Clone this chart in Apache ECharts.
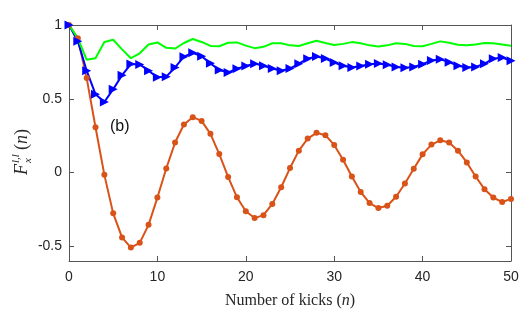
<!DOCTYPE html>
<html>
<head>
<meta charset="utf-8">
<script src="https://cdn.jsdelivr.net/npm/echarts@6/dist/echarts.min.js"></script>
<style>
  html, body { margin: 0; padding: 0; background: #fff; }
  #chart { width: 529px; height: 324px; }
</style>
</head>
<body>
<div id="chart"></div>
<script>
// number of kicks
var kicks = [0, 1, 2, 3, 4, 5, 6, 7, 8, 9, 10, 11, 12, 13, 14, 15, 16, 17, 18, 19, 20,
  21, 22, 23, 24, 25, 26, 27, 28, 29, 30, 31, 32, 33, 34, 35, 36, 37, 38, 39, 40,
  41, 42, 43, 44, 45, 46, 47, 48, 49, 50];

// orange curve with dots
var orangeVals = [1, 0.91, 0.64, 0.307, -0.016, -0.277, -0.44, -0.509, -0.477, -0.355, -0.17,
  0.027, 0.203, 0.325, 0.375, 0.35, 0.262, 0.125, -0.03, -0.168, -0.263,
  -0.309, -0.289, -0.213, -0.1, 0.03, 0.148, 0.23, 0.269, 0.253, 0.187,
  0.087, -0.027, -0.132, -0.207, -0.241, -0.225, -0.164, -0.075, 0.025, 0.123,
  0.189, 0.218, 0.203, 0.148, 0.068, -0.027, -0.113, -0.17, -0.2, -0.179];

// blue curve with triangles
var blueVals = [1, 0.89, 0.69, 0.53, 0.478, 0.565, 0.66, 0.735, 0.733, 0.69, 0.645,
  0.65, 0.712, 0.785, 0.812, 0.788, 0.74, 0.695, 0.678, 0.703, 0.722,
  0.738, 0.724, 0.705, 0.69, 0.705, 0.738, 0.772, 0.787, 0.773, 0.746,
  0.723, 0.712, 0.722, 0.734, 0.739, 0.73, 0.716, 0.71, 0.716, 0.734,
  0.76, 0.767, 0.748, 0.724, 0.712, 0.716, 0.738, 0.772, 0.78, 0.757];

// green curve, no markers
var greenVals = [1, 0.91, 0.765, 0.775, 0.885, 0.9, 0.835, 0.775, 0.808, 0.868, 0.882,
  0.845, 0.84, 0.878, 0.905, 0.885, 0.858, 0.856, 0.88, 0.882, 0.86,
  0.843, 0.852, 0.876, 0.876, 0.862, 0.858, 0.876, 0.893, 0.878, 0.864,
  0.872, 0.884, 0.876, 0.862, 0.854, 0.862, 0.876, 0.872, 0.858, 0.856,
  0.872, 0.889, 0.88, 0.866, 0.862, 0.868, 0.878, 0.876, 0.868, 0.86];

var yTicks = [-0.5, 0, 0.5, 1];

function pairs(vals) {
  return kicks.map(function (k, i) { return [k, vals[i]]; });
}

var chart = echarts.init(document.getElementById('chart'));
var axisCol = '#555';
var labelFont = { fontFamily: 'Liberation Sans, Arial, sans-serif', fontSize: 14, color: '#262626' };

var option = {
  animation: false,
  backgroundColor: '#fff',
  grid: { left: 69, right: 18, top: 25, bottom: 63 },
  xAxis: [
    {
      type: 'value', min: 0, max: 50, interval: 10,
      axisLine: { show: true, onZero: false, lineStyle: { color: axisCol, width: 1 } },
      axisTick: { show: true, inside: true, length: 5, lineStyle: { color: axisCol } },
      axisLabel: Object.assign({ margin: 9 }, labelFont),
      splitLine: { show: false },
      name: '{a|Number of kicks (}{i|n}{a|)}',
      nameLocation: 'middle',
      nameGap: 32,
      nameTextStyle: {
        rich: {
          a: { fontFamily: 'Liberation Serif, serif', fontSize: 16, color: '#262626' },
          i: { fontFamily: 'Liberation Serif, serif', fontSize: 16, fontStyle: 'italic', color: '#262626' }
        }
      }
    },
    {
      type: 'value', min: 0, max: 50, interval: 10, position: 'top',
      axisLine: { show: true, onZero: false, lineStyle: { color: axisCol, width: 1 } },
      axisTick: { show: true, inside: true, length: 5, lineStyle: { color: axisCol } },
      axisLabel: { show: false },
      splitLine: { show: false }
    }
  ],
  yAxis: [
    {
      type: 'value', min: -0.6, max: 1,
      axisLine: { show: true, onZero: false, lineStyle: { color: axisCol, width: 1 } },
      axisTick: { show: true, inside: true, length: 5, customValues: yTicks, lineStyle: { color: axisCol } },
      axisLabel: Object.assign({ margin: 7, customValues: yTicks }, labelFont),
      splitLine: { show: false }
    },
    {
      type: 'value', min: -0.6, max: 1, position: 'right',
      axisLine: { show: true, onZero: false, lineStyle: { color: axisCol, width: 1 } },
      axisTick: { show: true, inside: true, length: 5, customValues: yTicks, lineStyle: { color: axisCol } },
      axisLabel: { show: false },
      splitLine: { show: false }
    }
  ],
  graphic: [
    {
      type: 'text', left: 110, top: 119,
      style: { text: '(b)', font: '16px Liberation Sans, Arial, sans-serif', fill: '#111' }
    },
    {
      type: 'group', x: 22, y: 148, rotation: Math.PI / 2,
      children: [
        { type: 'text', x: -27, y: 0, style: { text: 'F', font: 'italic 18px Liberation Serif, serif', fill: '#262626', verticalAlign: 'middle' } },
        { type: 'text', x: -15, y: -6, style: { text: 'l,l', font: 'italic 11px Liberation Serif, serif', fill: '#262626', verticalAlign: 'middle' } },
        { type: 'text', x: -15, y: 6, style: { text: 'x', font: 'italic 11px Liberation Serif, serif', fill: '#262626', verticalAlign: 'middle' } },
        { type: 'text', x: -2, y: 0, style: {
            text: '{a|(}{i|n}{a|)}', verticalAlign: 'middle',
            rich: {
              a: { fontFamily: 'Liberation Serif, serif', fontSize: 18, fill: '#262626' },
              i: { fontFamily: 'Liberation Serif, serif', fontSize: 18, fontStyle: 'italic', fill: '#262626' }
            }
          } }
      ]
    }
  ],
  series: [
    {
      name: 'orange', type: 'line', data: pairs(orangeVals),
      symbol: 'circle', symbolSize: 6, showAllSymbol: true,
      lineStyle: { color: '#D95319', width: 2 },
      itemStyle: { color: '#D95319' }
    },
    {
      name: 'blue', type: 'line', data: pairs(blueVals),
      symbol: 'triangle', symbolSize: 9, symbolRotate: -90, showAllSymbol: true,
      lineStyle: { color: '#0000FF', width: 2 },
      itemStyle: { color: '#0000FF' }
    },
    {
      name: 'green', type: 'line', data: pairs(greenVals),
      symbol: 'none',
      lineStyle: { color: '#00FF00', width: 2 }
    }
  ]
};
chart.setOption(option);
</script>
</body>
</html>
